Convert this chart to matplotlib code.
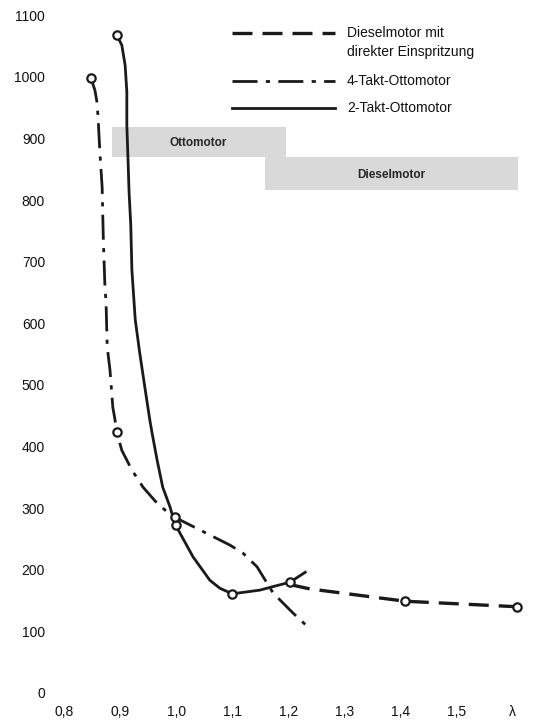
import matplotlib.pyplot as plt
from matplotlib.lines import Line2D
from matplotlib.patches import Rectangle

plt.rcParams['font.family'] = ['Liberation Sans', 'DejaVu Sans']

# lambda values and readings for each engine type
takt2_x = [0.894, 0.903, 0.909, 0.912, 0.912, 0.914, 0.916, 0.919, 0.921, 0.927, 0.935, 0.944,
           0.953, 0.957, 0.966, 0.976, 0.989, 0.998, 1.030, 1.060, 1.078, 1.1, 1.149, 1.203, 1.230]
takt2_y = [1068, 1052, 1019, 976, 922, 869, 813, 760, 687, 606, 552, 497,
           443, 422, 378, 334, 302, 274, 221, 183, 170, 161, 167, 180, 196]
takt2_mx = [0.894, 0.999, 1.1, 1.203]
takt2_my = [1068, 273, 161, 180]

takt4_x = [0.848, 0.855, 0.859, 0.861, 0.864, 0.868, 0.870, 0.873, 0.875, 0.877, 0.882, 0.887,
           0.891, 0.894, 0.903, 0.921, 0.941, 0.966, 0.984, 0.998, 1.096, 1.119, 1.144, 1.173,
           1.208, 1.235]
takt4_y = [998, 979, 958, 930, 877, 821, 740, 659, 633, 562, 524, 464,
           443, 424, 394, 362, 334, 308, 294, 285, 240, 227, 205, 162,
           130, 107]
takt4_mx = [0.848, 0.894, 0.998]
takt4_my = [998, 424, 286]

diesel_x = [1.203, 1.238, 1.408, 1.608]
diesel_y = [176, 169, 149, 140]
diesel_mx = [1.408, 1.608]
diesel_my = [149, 140]

# shaded ranges: (x0, x1, y0, y1, label)
otto_box = (0.885, 1.195, 870, 919, 'Ottomotor')
diesel_box = (1.158, 1.609, 817, 870, 'Dieselmotor')

xticks = [0.8, 0.9, 1.0, 1.1, 1.2, 1.3, 1.4, 1.5, 1.6]
xlabels = ['0,8', '0,9', '1,0', '1,1', '1,2', '1,3', '1,4', '1,5', 'λ']
yticks = [0, 100, 200, 300, 400, 500, 600, 700, 800, 900, 1000, 1100]

fig = plt.figure(figsize=(5.33, 7.2), dpi=100)
# axes placed in pixels: x 52..525, y 12..693
ax = fig.add_axes([52 / 533, 1 - 693 / 720, (525 - 52) / 533, (693 - 12) / 720])
ax.set_xlim(0.8 + (52 - 64) / 561, 0.8 + (525 - 64) / 561)
ax.set_ylim(0, 681 / 0.616)

for b in (otto_box, diesel_box):
    ax.add_patch(Rectangle((b[0], b[2]), b[1] - b[0], b[3] - b[2],
                           facecolor='#d9d9d9', edgecolor='none', zorder=1))
    ax.text((b[0] + b[1]) / 2, (b[2] + b[3]) / 2 - 2, b[4], ha='center', va='center',
            fontsize=8.5, fontweight='bold', color='#262626', zorder=2)

ink = '#1a1a1a'
ax.plot(takt2_x, takt2_y, color=ink, lw=2.0, zorder=3, solid_joinstyle='round')
ax.plot(takt4_x, takt4_y, color=ink, lw=2.0, dashes=(9, 3, 1.5, 3), zorder=3)
ax.plot(diesel_x, diesel_y, color=ink, lw=2.4, dashes=(6, 3), zorder=3)

for mx, my in ((takt2_mx, takt2_my), (takt4_mx, takt4_my), (diesel_mx, diesel_my)):
    ax.plot(mx, my, 'o', ms=6, mfc='white', mec=ink, mew=1.6, ls='none', zorder=4)

ax.set_xticks(xticks)
ax.set_xticklabels(xlabels)
ax.set_yticks(yticks)
ax.set_yticklabels([str(v) for v in yticks])
ax.tick_params(length=0, labelsize=10, labelcolor='#111111')
ax.tick_params(axis='x', pad=9)
ax.tick_params(axis='y', pad=5)
for s in ax.spines.values():
    s.set_visible(False)

# legend drawn in figure pixels
def fx(px):
    return px / 533

def fy(py):
    return 1 - py / 720

legend_rows = [
    (33, dict(lw=2.4, dashes=(6, 3)), ['Dieselmotor mit', 'direkter Einspritzung']),
    (81, dict(lw=2.0, dashes=(9, 3, 1.5, 3)), ['4-Takt-Ottomotor']),
    (108, dict(lw=2.0), ['2-Takt-Ottomotor']),
]
for py, style, texts in legend_rows:
    fig.add_artist(Line2D([fx(232), fx(335)], [fy(py), fy(py)], color=ink, **style))
    for i, t in enumerate(texts):
        fig.text(fx(347), fy(py + i * 19), t, ha='left', va='center',
                 fontsize=10, color='#111111')

fig.savefig('out.png', dpi=100, facecolor='white')
